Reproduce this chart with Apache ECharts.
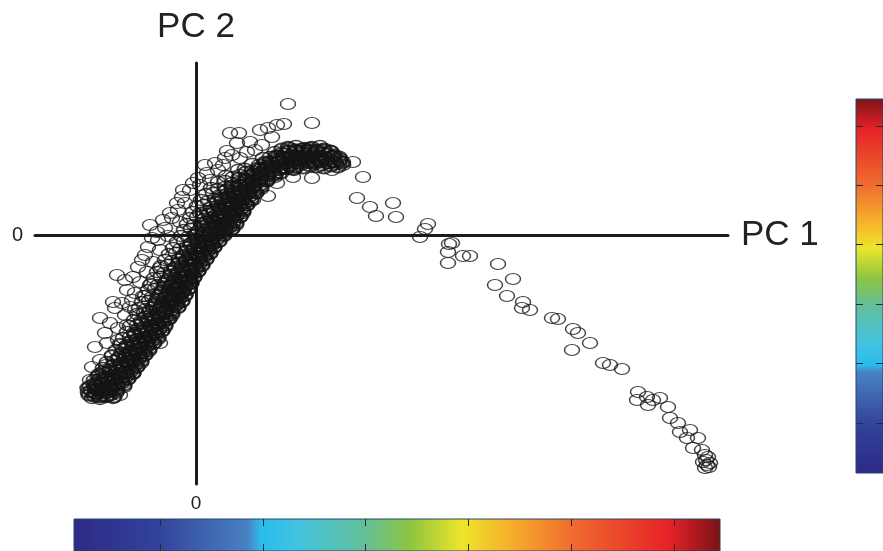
<!DOCTYPE html>
<html><head><meta charset="utf-8">
<script src="https://cdn.jsdelivr.net/npm/echarts@6/dist/echarts.min.js"></script>
<style>html,body{margin:0;padding:0;background:#fff}#c{width:883px;height:551px}</style>
</head><body><div id="c"></div><script>
// Axis ranges (PC units)
const pc1Range = [-16.1, 53.2];
const pc2Range = [-24.9, 17.2];
const axisNames = ['PC 1', 'PC 2'];
const zeroLabel = [0];

// Dense core of the point cloud [PC1, PC2]
const corePoints = [
[-10.4,-16.3],[-9.6,-16.4],[-9.0,-16.2],[-8.3,-16.3],
[-10.8,-15.7],[-10.1,-15.8],[-9.4,-15.6],[-8.7,-15.7],[-8.0,-15.8],
[-10.6,-15.1],[-9.9,-15.0],[-9.2,-15.2],[-8.5,-15.1],[-7.8,-15.0],[-7.2,-15.2],
[-10.2,-14.5],[-9.5,-14.6],[-8.8,-14.4],[-8.1,-14.5],[-7.4,-14.6],[-6.8,-14.4],
[-9.7,-13.9],[-9.0,-13.8],[-8.3,-14.0],[-7.6,-13.9],[-6.9,-13.8],[-6.3,-13.9],
[-9.3,-13.3],[-8.6,-13.4],[-7.9,-13.2],[-7.2,-13.3],[-6.5,-13.4],[-5.9,-13.2],
[-8.9,-12.7],[-8.2,-12.6],[-7.5,-12.8],[-6.8,-12.7],[-6.1,-12.6],[-5.5,-12.8],
[-8.4,-12.1],[-7.7,-12.2],[-7.0,-12.0],[-6.3,-12.1],[-5.6,-12.2],[-5.1,-12.0],
[-8.0,-11.5],[-7.3,-11.4],[-6.6,-11.6],[-5.9,-11.5],[-5.2,-11.4],[-4.7,-11.6],
[-7.6,-10.9],[-6.9,-11.0],[-6.2,-10.8],[-5.5,-10.9],[-4.8,-11.0],[-4.2,-10.8],
[-7.3,-10.3],[-6.6,-10.2],[-5.9,-10.4],[-5.2,-10.3],[-4.5,-10.2],[-3.8,-10.4],
[-6.9,-9.7],[-6.2,-9.8],[-5.5,-9.6],[-4.8,-9.7],[-4.1,-9.8],[-3.4,-9.6],
[-6.6,-9.1],[-5.9,-9.0],[-5.2,-9.2],[-4.5,-9.1],[-3.8,-9.0],[-3.1,-9.2],
[-6.2,-8.5],[-5.5,-8.6],[-4.8,-8.4],[-4.1,-8.5],[-3.4,-8.6],[-2.7,-8.4],
[-5.9,-7.9],[-5.2,-7.8],[-4.5,-8.0],[-3.8,-7.9],[-3.1,-7.8],[-2.4,-8.0],
[-5.7,-7.3],[-5.0,-7.4],[-4.3,-7.2],[-3.6,-7.3],[-2.9,-7.4],[-2.2,-7.2],[-1.8,-7.3],
[-5.4,-6.7],[-4.7,-6.6],[-4.0,-6.8],[-3.3,-6.7],[-2.6,-6.6],[-1.9,-6.8],[-1.4,-6.7],
[-5.1,-6.1],[-4.4,-6.2],[-3.7,-6.0],[-3.0,-6.1],[-2.3,-6.2],[-1.6,-6.0],[-1.1,-6.1],
[-4.8,-5.5],[-4.1,-5.4],[-3.4,-5.6],[-2.7,-5.5],[-2.0,-5.4],[-1.3,-5.6],[-0.8,-5.5],
[-4.5,-4.9],[-3.8,-5.0],[-3.1,-4.8],[-2.4,-4.9],[-1.7,-5.0],[-1.0,-4.8],[-0.5,-4.9],
[-4.2,-4.3],[-3.5,-4.2],[-2.8,-4.4],[-2.1,-4.3],[-1.4,-4.2],[-0.7,-4.4],[-0.2,-4.3],
[-3.9,-3.7],[-3.2,-3.8],[-2.5,-3.6],[-1.8,-3.7],[-1.1,-3.8],[-0.4,-3.6],[0.2,-3.7],
[-3.5,-3.1],[-2.8,-3.0],[-2.1,-3.2],[-1.4,-3.1],[-0.7,-3.0],[0.0,-3.2],[0.6,-3.1],
[-3.1,-2.5],[-2.4,-2.6],[-1.7,-2.4],[-1.0,-2.5],[-0.3,-2.6],[0.4,-2.4],[1.0,-2.5],
[-2.7,-1.9],[-2.0,-1.8],[-1.3,-2.0],[-0.6,-1.9],[0.1,-1.8],[0.8,-2.0],[1.4,-1.9],
[-2.3,-1.3],[-1.6,-1.4],[-0.9,-1.2],[-0.2,-1.3],[0.5,-1.4],[1.2,-1.2],[1.8,-1.3],
[-1.9,-0.7],[-1.2,-0.6],[-0.5,-0.8],[0.2,-0.7],[0.9,-0.6],[1.6,-0.8],[2.3,-0.7],
[-1.5,-0.1],[-0.8,-0.2],[-0.1,0.0],[0.6,-0.1],[1.3,-0.2],[2.0,0.0],[2.8,-0.1],
[-1.2,0.5],[-0.5,0.6],[0.2,0.4],[0.9,0.5],[1.6,0.6],[2.3,0.4],[3.0,0.5],[3.6,0.6],
[-0.9,1.1],[-0.2,1.0],[0.5,1.2],[1.2,1.1],[1.9,1.0],[2.6,1.2],[3.3,1.1],[4.0,1.0],
[-0.6,1.7],[0.1,1.8],[0.8,1.6],[1.5,1.7],[2.2,1.8],[2.9,1.6],[3.6,1.7],[4.4,1.8],
[-0.3,2.3],[0.4,2.2],[1.1,2.4],[1.8,2.3],[2.5,2.2],[3.2,2.4],[3.9,2.3],[4.7,2.2],
[0.1,2.9],[0.8,3.0],[1.5,2.8],[2.2,2.9],[2.9,3.0],[3.6,2.8],[4.3,2.9],[5.1,3.0],
[0.5,3.5],[1.2,3.4],[1.9,3.6],[2.6,3.5],[3.3,3.4],[4.0,3.6],[4.7,3.5],[5.5,3.4],
[1.0,4.1],[1.7,4.2],[2.4,4.0],[3.1,4.1],[3.8,4.2],[4.5,4.0],[5.2,4.1],[6.0,4.2],
[1.5,4.7],[2.2,4.6],[2.9,4.8],[3.6,4.7],[4.3,4.6],[5.0,4.8],[5.7,4.7],[6.5,4.6],
[2.2,5.3],[2.9,5.4],[3.6,5.2],[4.3,5.3],[5.0,5.4],[5.7,5.2],[6.4,5.3],[7.1,5.4],
[3.0,5.9],[3.7,5.8],[4.4,6.0],[5.1,5.9],[5.8,5.8],[6.5,6.0],[7.2,5.9],[7.9,5.8],
[4.2,6.5],[4.9,6.6],[5.6,6.4],[6.3,6.5],[7.0,6.6],[7.7,6.4],[8.4,6.5],[9.1,6.6],[9.8,6.5],
[5.6,7.1],[6.3,7.0],[7.0,7.2],[7.7,7.1],[8.4,7.0],[9.1,7.2],[9.8,7.1],[10.5,7.0],[11.2,7.2],[11.9,7.1],[12.6,7.0],[13.3,7.2],[14.0,7.1],[14.7,7.0],
[6.7,7.7],[7.4,7.8],[8.1,7.6],[8.8,7.7],[9.5,7.8],[10.2,7.6],[10.9,7.7],[11.6,7.8],[12.3,7.6],[13.0,7.7],[13.7,7.8],[14.4,7.6],
[7.9,8.3],[8.6,8.2],[9.3,8.4],[10.0,8.3],[10.7,8.2],[11.4,8.4],[12.1,8.3],[12.8,8.2],[13.5,8.4],
[9.2,8.8],[10.0,8.9],[10.8,8.7],[11.6,8.8],[12.4,8.9]
];

// Darker ridge along the lower-right side of the cloud [PC1, PC2]
const ridgePoints = [
[-8.6,-16.0],[-9.3,-16.1],[-10.0,-15.9],[-10.7,-16.0],
[-8.0,-15.4],[-8.7,-15.3],[-9.4,-15.5],[-10.1,-15.4],[-10.8,-15.3],
[-7.4,-14.8],[-8.1,-14.9],[-8.8,-14.7],[-9.5,-14.8],[-10.2,-14.9],
[-7.0,-14.2],[-7.7,-14.1],[-8.4,-14.3],[-9.1,-14.2],[-9.8,-14.1],
[-6.5,-13.6],[-7.2,-13.7],[-7.9,-13.5],[-8.6,-13.6],[-9.3,-13.7],
[-6.1,-13.0],[-6.8,-12.9],[-7.5,-13.1],[-8.2,-13.0],
[-5.7,-12.4],[-6.4,-12.5],[-7.1,-12.3],[-7.8,-12.4],
[-5.3,-11.8],[-6.0,-11.7],[-6.7,-11.9],[-7.4,-11.8],
[-4.9,-11.2],[-5.6,-11.3],[-6.3,-11.1],[-7.0,-11.2],
[-4.4,-10.6],[-5.1,-10.5],[-5.8,-10.7],[-6.5,-10.6],
[-4.0,-10.0],[-4.7,-10.1],[-5.4,-9.9],[-6.1,-10.0],
[-3.7,-9.4],[-4.4,-9.3],[-5.1,-9.5],[-5.8,-9.4],
[-3.3,-8.8],[-4.0,-8.9],[-4.7,-8.7],[-5.4,-8.8],
[-3.0,-8.2],[-3.7,-8.1],[-4.4,-8.3],[-5.1,-8.2],
[-2.5,-7.6],[-3.2,-7.7],[-3.9,-7.5],[-4.6,-7.6],
[-2.0,-7.0],[-2.7,-6.9],[-3.4,-7.1],[-4.1,-7.0],
[-1.7,-6.4],[-2.4,-6.5],[-3.1,-6.3],[-3.8,-6.4],
[-1.4,-5.8],[-2.1,-5.7],[-2.8,-5.9],[-3.5,-5.8],
[-1.1,-5.2],[-1.8,-5.3],[-2.5,-5.1],[-3.2,-5.2],
[-0.8,-4.6],[-1.5,-4.5],[-2.2,-4.7],[-2.9,-4.6],
[-0.4,-4.0],[-1.1,-4.1],[-1.8,-3.9],[-2.5,-4.0],
[0.0,-3.4],[-0.7,-3.3],[-1.4,-3.5],[-2.1,-3.4],
[0.4,-2.8],[-0.3,-2.9],[-1.0,-2.7],[-1.7,-2.8],
[0.8,-2.2],[0.1,-2.1],[-0.6,-2.3],[-1.3,-2.2],
[1.2,-1.6],[0.5,-1.7],[-0.2,-1.5],[-0.9,-1.6],
[1.6,-1.0],[0.9,-0.9],[0.2,-1.1],[-0.5,-1.0],
[2.1,-0.4],[1.4,-0.5],[0.7,-0.3],[0.0,-0.4],
[2.8,0.2],[2.1,0.1],[1.4,0.3],[0.7,0.2],[0.0,0.1],
[3.4,0.8],[2.7,0.9],[2.0,0.7],[1.3,0.8],[0.6,0.9],
[3.8,1.4],[3.1,1.3],[2.4,1.5],[1.7,1.4],[1.0,1.3],
[4.1,2.0],[3.4,2.1],[2.7,1.9],[2.0,2.0],[1.3,2.1],
[4.5,2.6],[3.8,2.5],[3.1,2.7],[2.4,2.6],[1.7,2.5],
[4.9,3.2],[4.2,3.3],[3.5,3.1],[2.8,3.2],[2.1,3.3],
[5.3,3.8],[4.6,3.7],[3.9,3.9],[3.2,3.8],[2.5,3.7],
[5.8,4.4],[5.1,4.5],[4.4,4.3],[3.7,4.4],[3.0,4.5],
[6.4,5.0],[5.7,4.9],[5.0,5.1],[4.3,5.0],[3.6,4.9],
[7.1,5.6],[6.4,5.7],[5.7,5.5],[5.0,5.6],[4.3,5.7],
[8.5,6.2],[7.8,6.1],[7.1,6.3],[6.4,6.2],[5.7,6.1],[5.0,6.3],
[14.2,6.8],[13.5,6.9],[12.8,6.7],[12.1,6.8],[11.4,6.9],[10.7,6.7],[10.0,6.8],[9.3,6.9],[8.6,6.7],[7.9,6.8],[7.2,6.9],[6.5,6.7],
[14.4,7.4],[13.7,7.3],[13.0,7.5],[12.3,7.4],[11.6,7.3],[10.9,7.5],[10.2,7.4],[9.5,7.3],[8.8,7.5],[8.1,7.4],[7.4,7.3],
[13.8,8.0],[13.1,8.1],[12.4,7.9],[11.7,8.0],[11.0,8.1],[10.3,7.9],[9.6,8.0],[8.9,8.1],[8.2,7.9],
[12.8,8.6],[12.1,8.5],[11.4,8.7],[10.7,8.6],[10.0,8.5],[9.3,8.7],[8.6,8.6]
];

// Darkest spine of the ridge [PC1, PC2]
const spinePoints = [
[-8.2,-16.2],[-8.9,-16.1],[-9.6,-16.2],[-10.2,-16.1],
[-7.9,-15.6],[-8.5,-15.5],[-9.2,-15.6],[-9.9,-15.5],[-10.5,-15.6],
[-7.2,-15.0],[-7.9,-14.9],[-8.6,-15.0],[-9.3,-14.9],[-10.0,-15.0],
[-6.8,-14.4],[-7.5,-14.3],[-8.2,-14.4],[-8.9,-14.3],[-9.6,-14.4],
[-6.3,-13.8],[-7.0,-13.7],[-7.7,-13.8],[-8.4,-13.7],
[-5.9,-13.2],[-6.6,-13.1],[-7.3,-13.2],
[-5.5,-12.6],[-6.2,-12.5],[-6.9,-12.6],
[-5.1,-12.0],[-5.8,-11.9],[-6.5,-12.0],
[-4.7,-11.4],[-5.4,-11.3],[-6.1,-11.4],
[-4.2,-10.8],[-4.9,-10.7],[-5.6,-10.8],
[-3.8,-10.2],[-4.5,-10.1],[-5.2,-10.2],
[-3.4,-9.6],[-4.1,-9.5],[-4.8,-9.6],
[-3.1,-9.0],[-3.8,-8.9],[-4.5,-9.0],
[-2.7,-8.4],[-3.4,-8.3],[-4.1,-8.4],
[-2.4,-7.8],[-3.1,-7.7],[-3.8,-7.8],
[-1.8,-7.2],[-2.5,-7.1],[-3.2,-7.2],
[-1.4,-6.6],[-2.1,-6.5],[-2.8,-6.6],
[-1.1,-6.0],[-1.8,-5.9],[-2.5,-6.0],
[-0.8,-5.4],[-1.5,-5.3],[-2.2,-5.4],
[-0.5,-4.8],[-1.2,-4.7],[-1.9,-4.8],
[-0.2,-4.2],[-0.9,-4.1],[-1.6,-4.2],
[0.2,-3.6],[-0.5,-3.5],[-1.2,-3.6],
[0.6,-3.0],[-0.1,-2.9],[-0.8,-3.0],
[1.0,-2.4],[0.3,-2.3],[-0.4,-2.4],
[1.4,-1.8],[0.7,-1.7],[0.0,-1.8],
[1.8,-1.2],[1.1,-1.1],[0.4,-1.2],
[2.3,-0.6],[1.6,-0.5],[0.9,-0.6],
[2.8,0.0],[2.1,0.1],[1.4,0.0],
[3.6,0.6],[2.9,0.7],[2.2,0.6],[1.5,0.7],
[4.0,1.2],[3.3,1.3],[2.6,1.2],[1.9,1.3],
[4.4,1.8],[3.7,1.9],[3.0,1.8],[2.3,1.9],
[4.7,2.4],[4.0,2.5],[3.3,2.4],[2.6,2.5],
[5.1,3.0],[4.4,3.1],[3.7,3.0],[3.0,3.1],
[5.5,3.6],[4.8,3.7],[4.1,3.6],[3.4,3.7],
[6.0,4.2],[5.3,4.3],[4.6,4.2],[3.9,4.3],
[6.5,4.8],[5.8,4.9],[5.1,4.8],[4.4,4.9],
[7.1,5.4],[6.4,5.5],[5.7,5.4],[5.0,5.5],
[7.9,6.0],[7.2,6.1],[6.5,6.0],[5.8,6.1],
[9.7,6.6],[9.0,6.7],[8.3,6.6],[7.6,6.7],[6.9,6.6],[6.2,6.7],
[14.6,7.2],[13.9,7.3],[13.2,7.2],[12.5,7.3],[11.8,7.2],[11.1,7.3],[10.4,7.2],[9.7,7.3],[9.0,7.2],[8.3,7.3],[7.6,7.2],[6.9,7.3],
[14.3,7.8],[13.6,7.9],[12.9,7.8],[12.2,7.9],[11.5,7.8],[10.8,7.9],[10.1,7.8],[9.4,7.9],[8.7,7.8],[8.0,7.9],
[13.4,8.4],[12.7,8.5],[12.0,8.4],[11.3,8.5],[10.6,8.4],[9.9,8.5],[9.2,8.4]
];

// Looser points around the core [PC1, PC2]
const haloPoints = [
[9.2,13.1],[11.6,11.2],[3.4,10.2],[4.3,10.2],[6.4,10.5],[7.2,10.7],[8.1,11.0],[8.8,11.1],
[7.6,9.8],[5.4,9.3],[4.1,9.2],[3.1,8.4],[3.6,8.0],[5.1,8.3],[1.9,7.2],[2.7,7.0],
[1.1,6.2],[-0.3,5.2],[0.2,5.7],[-1.3,4.5],[-1.4,3.8],[-1.9,3.2],[-2.6,2.2],[-3.3,1.5],
[-3.9,0.3],[-4.4,-0.3],[-4.8,-1.2],[-5.1,-2.0],[-5.4,-2.5],[-5.8,-3.2],[-7.9,-4.0],[-7.1,-4.5],
[-6.3,-4.2],[-6.9,-5.5],[-6.1,-5.8],[-8.3,-6.7],[-7.4,-6.8],[-6.6,-7.2],[-9.6,-8.3],[-8.6,-8.8],
[-7.8,-9.3],[-9.1,-9.8],[-10.1,-11.2],[-8.9,-10.8],[-9.6,-12.5],[-10.4,-13.2],[-10.6,-14.5],[-10.1,-15.2],
[-9.4,-15.8],[-7.6,-16.0],[-5.6,-12.2],[-6.3,-13.8],[-2.9,-8.5],[-3.6,-10.8],[-1.9,-6.2],[-0.9,-4.2],
[1.4,-1.2],[2.4,0.5],[3.7,1.2],[4.7,2.5],[5.7,3.5],[7.2,3.9],[8.1,5.2],[9.7,5.8],
[-4.6,1.0],[-3.8,-0.5],[-3.1,0.7],[-2.4,1.7],[-1.8,2.5],[-1.1,3.2],[-3.6,-1.5],[-4.3,-2.7],
[-4.9,-3.7],[-5.6,-4.7],[-6.4,-6.5],[-7.1,-8.0],[-7.8,-10.5],[-8.4,-12.0],[-9.0,-13.0],[-0.6,4.5],
[0.4,5.0],[1.4,5.5],[2.2,6.5],[0.9,7.0],[2.9,7.7],[4.4,7.7],[5.9,8.5],[6.6,9.0],
[-1.6,1.3],[-2.8,-0.1],[-3.6,-3.3],[-4.6,-5.0],[-5.3,-6.1],[-6.1,-7.5],[-6.9,-9.0],[-7.5,-11.0],
[-8.1,-7.3]
];

// Sparse tail towards high PC1 [PC1, PC2]
const tailPoints = [
[11.6,5.7],[13.6,6.5],[14.7,7.3],[15.7,7.3],[16.7,5.8],[16.1,3.7],[17.4,2.8],[18.0,1.9],
[19.7,3.2],[20.0,1.8],[23.2,1.1],[22.9,0.6],[22.4,-0.2],[25.6,-0.8],[25.3,-0.9],[25.2,-1.7],
[25.2,-2.8],[26.7,-2.1],[27.4,-2.1],[30.2,-2.9],[31.7,-4.4],[29.9,-5.0],[31.1,-6.1],[32.7,-6.7],
[32.6,-7.3],[33.4,-7.5],[35.6,-8.3],[36.2,-8.4],[37.7,-9.4],[38.2,-9.8],[37.6,-11.5],[39.4,-10.8],
[40.7,-12.8],[41.4,-13.0],[42.6,-13.4],[44.2,-15.7],[44.1,-16.5],[45.1,-16.2],[45.7,-16.5],[46.4,-16.3],
[45.2,-17.0],[47.2,-17.2],[47.4,-18.3],[48.2,-18.8],[48.4,-19.7],[49.4,-19.5],[49.1,-20.3],[50.2,-20.3],
[49.7,-21.3],[50.6,-21.5],[50.9,-22.0],[51.2,-22.2],[50.7,-22.7],[51.1,-23.0],[51.4,-22.8],[50.9,-23.3],
[51.0,-22.5],[51.3,-23.2]
];

// Colour bars: tick positions and range (colour-scale units)
const colorbarTicks = [0, 1, 2, 3, 4, 5];
const colorbarRange = [-0.84, 5.45];
const jetStops = [
  [0, '#2d2a87'], [0.13, '#32429a'], [0.27, '#4a82c3'], [0.29, '#27bdee'],
  [0.35, '#45c3df'], [0.45, '#63bf98'], [0.52, '#8cc541'], [0.60, '#ede52a'],
  [0.68, '#f6ab2b'], [0.77, '#ef6c2e'], [0.92, '#e52228'], [1, '#7a1315']
];

const chart = echarts.init(document.getElementById('c'), null, {renderer: 'canvas'});
const stops = jetStops.map(s => ({offset: s[0], color: s[1]}));
const font = "'Liberation Sans', Arial, sans-serif";
const ink = '#1c1c1c';

function scatterSeries(name, data, strokeWidth) {
  return {
    name: name, data: data, type: 'scatter', xAxisIndex: 0, yAxisIndex: 0,
    symbol: 'circle', symbolSize: [15, 11],
    itemStyle: {color: 'rgba(0,0,0,0)', borderColor: '#141414', borderWidth: strokeWidth},
    emphasis: {disabled: true}, silent: true
  };
}

const cbTick = {show: true, inside: true, length: 7, customValues: colorbarTicks, lineStyle: {color: '#2a2a2a', width: 1}};

chart.setOption({
  animation: false,
  backgroundColor: '#ffffff',
  grid: [
    {left: 35, top: 63, width: 693, height: 421},
    {left: 74, top: 519, width: 646, height: 34, show: true, borderColor: '#25466a', borderWidth: 1,
     backgroundColor: new echarts.graphic.LinearGradient(0, 0, 1, 0, stops)},
    {left: 856, top: 99, width: 30, height: 374, show: true, borderColor: '#25466a', borderWidth: 1,
     backgroundColor: new echarts.graphic.LinearGradient(0, 1, 0, 0, stops)}
  ],
  xAxis: [
    {gridIndex: 0, type: 'value', min: pc1Range[0], max: pc1Range[1],
     axisLine: {show: true, onZero: true, lineStyle: {color: ink, width: 3}},
     axisTick: {show: false}, axisLabel: {show: false}, splitLine: {show: false},
     name: axisNames[0], nameLocation: 'end', nameGap: 13,
     nameTextStyle: {fontSize: 35, color: '#222', fontFamily: font}},
    {gridIndex: 0, type: 'value', position: 'bottom', min: pc1Range[0], max: pc1Range[1],
     axisLine: {show: false, onZero: false}, axisTick: {show: false}, splitLine: {show: false},
     axisLabel: {show: true, customValues: zeroLabel, margin: 10, fontSize: 19, color: '#222', fontFamily: font}},
    {gridIndex: 1, type: 'value', position: 'top', min: colorbarRange[0], max: colorbarRange[1],
     axisLine: {show: false, onZero: false}, axisLabel: {show: false}, splitLine: {show: false}, axisTick: cbTick},
    {gridIndex: 1, type: 'value', position: 'bottom', min: colorbarRange[0], max: colorbarRange[1],
     axisLine: {show: false, onZero: false}, axisLabel: {show: false}, splitLine: {show: false}, axisTick: cbTick},
    {gridIndex: 2, type: 'value', show: false}
  ],
  yAxis: [
    {gridIndex: 0, type: 'value', min: pc2Range[0], max: pc2Range[1],
     axisLine: {show: true, onZero: true, lineStyle: {color: ink, width: 3}},
     axisTick: {show: false}, axisLabel: {show: false}, splitLine: {show: false},
     name: axisNames[1], nameLocation: 'end', nameGap: 18,
     nameTextStyle: {fontSize: 35, color: '#222', fontFamily: font}},
    {gridIndex: 0, type: 'value', position: 'left', min: pc2Range[0], max: pc2Range[1],
     axisLine: {show: false, onZero: false}, axisTick: {show: false}, splitLine: {show: false},
     axisLabel: {show: true, customValues: zeroLabel, margin: 12, fontSize: 20, color: '#222', fontFamily: font}},
    {gridIndex: 1, type: 'value', show: false},
    {gridIndex: 2, type: 'value', position: 'left', min: colorbarRange[0], max: colorbarRange[1],
     axisLine: {show: false, onZero: false}, axisLabel: {show: false}, splitLine: {show: false}, axisTick: cbTick},
    {gridIndex: 2, type: 'value', position: 'right', min: colorbarRange[0], max: colorbarRange[1],
     axisLine: {show: false, onZero: false}, axisLabel: {show: false}, splitLine: {show: false}, axisTick: cbTick}
  ],
  series: [
    scatterSeries('halo', haloPoints, 1.3),
    scatterSeries('core', corePoints, 1.6),
    scatterSeries('ridge', ridgePoints, 2.2),
    scatterSeries('spine', spinePoints, 2.2),
    scatterSeries('tail', tailPoints, 1.3)
  ]
});
</script></body></html>
